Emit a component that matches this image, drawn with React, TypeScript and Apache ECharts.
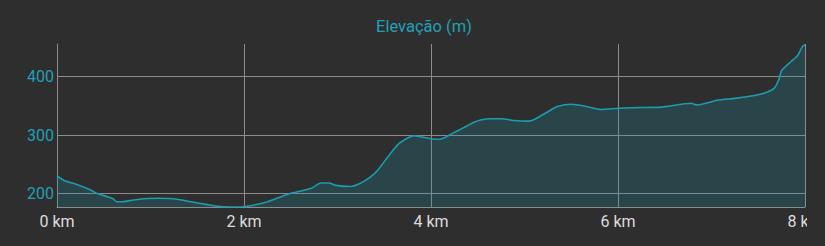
import React, { useEffect, useRef } from "react";
import * as echarts from "echarts";

const distanceKm: number[] = [
  0.0, 0.03, 0.08, 0.22, 0.36, 0.43, 0.55, 0.6, 0.64, 0.7, 0.82, 0.97, 1.1, 1.25, 1.43, 1.61, 1.72, 1.85, 1.97,
  2.07, 2.25, 2.47, 2.72, 2.82, 2.91, 2.98, 3.14, 3.25, 3.35, 3.43, 3.54, 3.64, 3.75, 3.82, 3.96, 4.05, 4.12,
  4.23, 4.34, 4.46, 4.53, 4.64, 4.75, 4.89, 5.05, 5.12, 5.25, 5.35, 5.5, 5.64, 5.82, 6.0, 6.14, 6.46, 6.78,
  6.85, 7.07, 7.25, 7.46, 7.6, 7.67, 7.72, 7.75, 7.81, 7.85, 7.92, 7.97, 8.0,
];
const elevationM: number[] = [
  230, 227, 222, 215, 206, 200, 194, 191, 186, 186, 189, 191.5, 192, 191, 186, 181, 178, 177, 177,
  179, 186, 199, 209, 218, 218, 214, 212, 218, 228, 240, 263, 283, 295, 299, 295, 293, 294,
  303, 312, 322, 326, 328, 328, 325, 324, 328, 340, 349, 353, 350, 344, 346, 347, 348, 354.5,
  351.6, 360, 363, 368, 374, 380, 395, 411, 420, 426, 436, 451, 455,
];
const yTicks: number[] = [200, 300, 400];
const xTicks: number[] = [0, 2, 4, 6, 8];
const titleText = "Elevação (m)";

export default function App() {
  const ref = useRef<HTMLDivElement>(null);
  useEffect(() => {
    if (!ref.current) return;
    const chart = echarts.init(ref.current, null, { renderer: "svg" });
    const teal = "#1d9bb0";
    const grid = "#8c8c8c";
    chart.setOption({
      animation: false,
      backgroundColor: "#2e2e2e",
      textStyle: { fontFamily: "Roboto" },
      title: {
        text: titleText,
        left: 419,
        textAlign: "center",
        top: 13,
        textStyle: { color: "#21a0b6", fontSize: 16.5, fontWeight: "normal", fontFamily: "Roboto" },
      },
      grid: { left: 57, top: 44, width: 748, height: 163, containLabel: false, outerBoundsMode: "none" },
      xAxis: {
        type: "value",
        min: 0,
        max: 8,
        interval: 2,
        axisLine: { show: true, lineStyle: { color: grid, width: 1 } },
        axisTick: { show: false, customValues: xTicks },
        axisLabel: {
          customValues: xTicks,
          color: "#dddddd",
          fontSize: 16,
          margin: 6,
          formatter: (v: number) => `${v} km`,
        },
        splitLine: { show: true, lineStyle: { color: grid, width: 1 } },
      },
      yAxis: {
        type: "value",
        min: 177,
        max: 456,
        axisLine: { show: true, lineStyle: { color: grid, width: 1 } },
        axisTick: { show: false, customValues: yTicks },
        axisLabel: {
          customValues: yTicks,
          color: "#21a0b6",
          fontSize: 16,
          margin: 3,
          padding: [0, 0, 9, 0],
        },
        splitLine: { show: true, lineStyle: { color: grid, width: 1 } },
      },
      series: [
        {
          type: "line",
          data: distanceKm.map((d, i) => [d, elevationM[i]]),
          showSymbol: false,
          smooth: 0.2,
          lineStyle: { color: teal, width: 1.6 },
          itemStyle: { color: teal },
          areaStyle: { color: "rgba(29,155,176,0.3)", origin: "start" },
        },
      ],
    });
    return () => chart.dispose();
  }, []);
  return (
    <div style={{ position: "absolute", left: 0, top: 0, width: 825, height: 246, background: "#2e2e2e", overflow: "hidden" }}>
      <div ref={ref} style={{ width: 807, height: 246 }} />
    </div>
  );
}
